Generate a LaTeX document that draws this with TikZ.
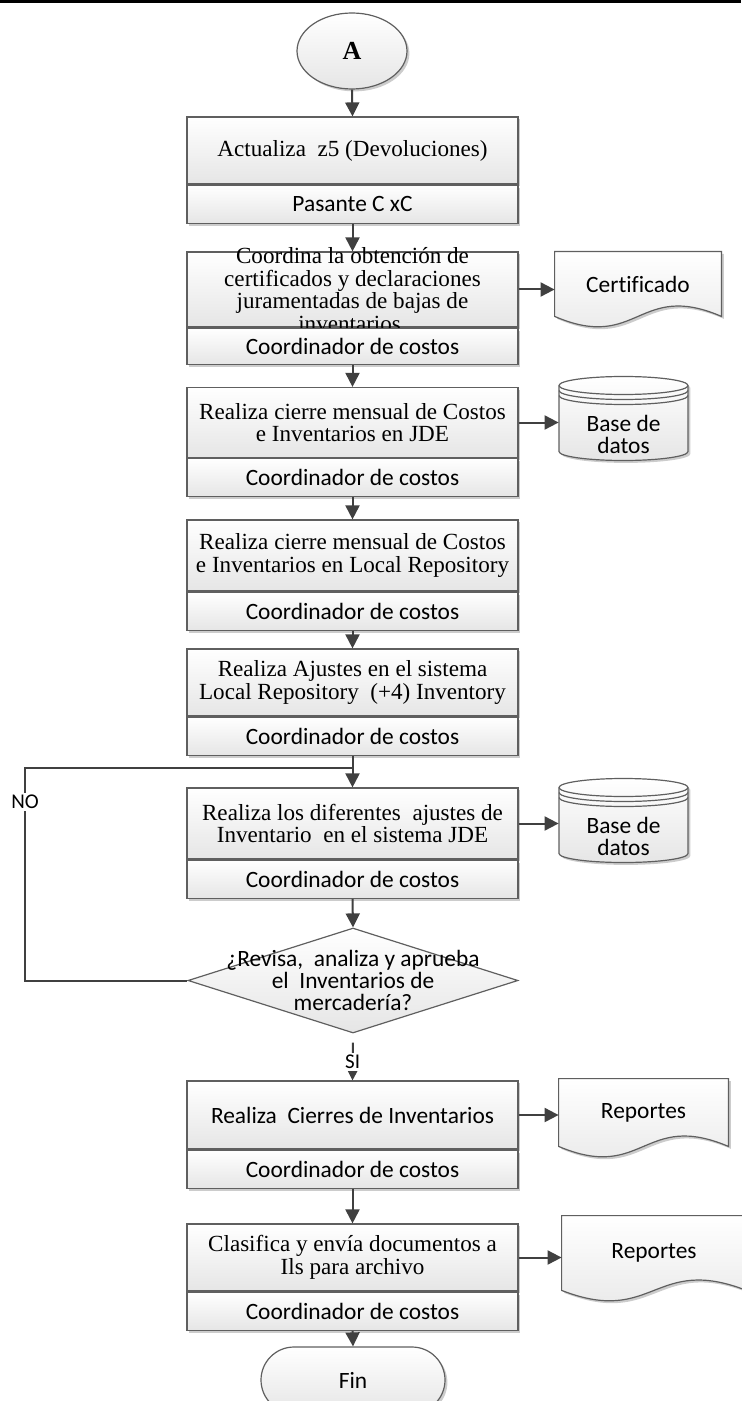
\documentclass[tikz,border=0pt]{standalone}
\usepackage{fontspec}
\setmainfont{Liberation Serif}
\setsansfont{Carlito}[Ligatures=NoCommon]
\usepackage{tikz}
\definecolor{bordegris}{RGB}{95,95,95}
\definecolor{flechagris}{RGB}{64,64,64}
\usetikzlibrary{
  arrows.meta,
  positioning,
  shapes.geometric,
  calc,
  backgrounds,
  shadows
}

\begin{document}
\begin{tikzpicture}[
  x=0.5pt, y=-0.5pt,
  sombra/.style={drop shadow={shadow xshift=1.2pt, shadow yshift=-1.2pt, fill=black!40, opacity=0.5}},
  relleno/.style={draw=bordegris, line width=0.6pt, top color=white, bottom color=black!10},
  serif/.style={align=center, font=\fontsize{11.55}{11.3}\selectfont},
  sans/.style={align=center, font=\sffamily\fontsize{11.7}{11}\selectfont},
  tarea/.style={relleno, sombra, serif, minimum width=165.5pt, inner sep=2pt},
  rol/.style={relleno, sombra, sans, minimum width=165.5pt, minimum height=19pt, inner sep=1pt},
  conector/.style={ellipse, relleno, sombra, minimum width=55pt, minimum height=38pt,
    font=\bfseries\fontsize{13}{15}\selectfont},
  terminal/.style={relleno, sombra, sans, rounded corners=16.5pt, minimum width=92pt, minimum height=33pt},
  decision/.style={diamond, relleno, minimum width=165pt, minimum height=52.5pt, inner sep=0pt},
  docnodo/.style={sans, inner sep=0pt},
  forma/.style={relleno, sombra},
  flecha/.style={draw=flechagris, line width=1pt, -{Triangle[length=7pt, width=7pt]}},
  linea/.style={draw=flechagris, line width=1pt},
  etiq/.style={fill=white, inner sep=1pt, font=\sffamily\fontsize{10.5}{12}\selectfont},
]
\useasboundingbox (0,0) rectangle (741,1401);

% Table border on top
\draw[line width=1.5pt] (0,2) -- (741,2);
\draw[line width=0.6pt] (146,0) -- (146,2) (532,0) -- (532,2);

% Off-page connector
\node[conector] (inicio) at (352,51) {A};

% Process steps, task above and role below
\node[tarea, minimum height=33.5pt] (t1) at (352.5,150.5) {Actualiza~ z5 (Devoluciones)};
\node[rol, below=0pt of t1] (r1) {Pasante C xC};

\node[tarea, minimum height=37.5pt] (t2) at (352.5,289.5) {};
\node[serif] at (t2) {Coordina la obtención de\\certificados y declaraciones\\juramentadas de bajas de\\inventarios.};
\node[rol, below=0pt of t2, minimum height=18pt] (r2) {Coordinador de costos};

\node[tarea, minimum height=35pt] (t3) at (352.5,422.5) {Realiza cierre mensual de Costos\\e Inventarios en JDE};
\node[rol, below=0pt of t3] (r3) {Coordinador de costos};

\node[tarea, minimum height=35.5pt] (t4) at (352.5,555.5) {Realiza cierre mensual de Costos\\e Inventarios en Local Repository};
\node[rol, below=0pt of t4] (r4) {Coordinador de costos};

\node[tarea, minimum height=33.5pt] (t5) at (352.5,682.5) {Realiza Ajustes en el sistema\\Local Repository~ (+4) Inventory};
\node[rol, below=0pt of t5] (r5) {Coordinador de costos};

\node[tarea, minimum height=35.5pt] (t6) at (352.5,823.5) {Realiza los diferentes~ ajustes de\\Inventario~ en el sistema JDE};
\node[rol, below=0pt of t6] (r6) {Coordinador de costos};

% Approval
\node[decision] (dec) at (353,980.5) {};
\node[sans] (pregunta) at (dec) {¿Revisa,~ analiza y aprueba\\el~ Inventarios de\\mercadería?};

\node[tarea, sans, minimum height=34pt] (t7) at (352.5,1115) {Realiza~ Cierres de Inventarios};
\node[rol, below=0pt of t7] (r7) {Coordinador de costos};

\node[tarea, minimum height=33.5pt] (t8) at (352.5,1257.5) {Clasifica y envía documentos a\\Ils para archivo};
\node[rol, below=0pt of t8] (r8) {Coordinador de costos};

\node[terminal] (fin) at (353,1380) {Fin};

% Documents and data stores on the right
\node[docnodo, minimum width=83pt, minimum height=32pt] (cert) at (638,284) {Certificado};
\node[docnodo, minimum width=84.5pt, minimum height=33.5pt] (rep1) at (643.5,1112.5) {Reportes};
\node[docnodo, minimum width=92pt, minimum height=37pt] (rep2) at (654,1253) {Reportes};
\node[docnodo, minimum width=64.5pt] (db1) at (623.5,434.5) {Base de\\datos};
\node[docnodo, minimum width=64.5pt] (db2) at (623.5,836.5) {Base de\\datos};

\begin{scope}[on background layer]
  \foreach \d in {cert, rep1, rep2} {
    \draw[forma] (\d.north west) -- (\d.north east) -- (\d.south east)
      .. controls ($(\d.south)+(0,-36)$) and ($(\d.south)+(0,36)$) .. (\d.south west) -- cycle;
  }
  \foreach \d in {db1, db2} {
    \draw[forma] ($(\d)+(-64.5,-49)$) -- ($(\d)+(-64.5,17)$)
      arc[start angle=180, end angle=360, x radius=32.25pt, y radius=4.5pt]
      -- ($(\d)+(64.5,-49)$)
      arc[start angle=0, end angle=180, x radius=32.25pt, y radius=4.5pt] -- cycle;
    \foreach \o in {0,5,10}
      \draw[bordegris, line width=0.6pt] ($(\d)+(-64.5,-49+\o)$)
        arc[start angle=180, end angle=360, x radius=32.25pt, y radius=4.5pt];
  }
\end{scope}

% Main flow
\foreach \a/\b in {inicio/t1, r1/t2, r2/t3, r3/t4, r4/t5, r5/t6, r6/dec, r7/t8, r8/fin} {
  \draw[flecha] (\a.south) -- (\b.north);
}
\draw[flecha, shorten <=4.5pt] (dec.south) -- (t7.north) node[etiq, pos=0.6] {SI};

% Outputs
\foreach \a/\b in {t2/cert, t3/db1, t6/db2, t7/rep1, t8/rep2} {
  \draw[flecha] (\a.east) -- (\a.east -| \b.west);
}

% Rejected: back to the adjustments
\coordinate (codo) at (25,768);
\coordinate (union) at (codo -| t6.north);
\draw[linea] (dec.west) -| (codo) node[etiq, pos=0.92] {NO} -- (union);

\end{tikzpicture}
\end{document}
